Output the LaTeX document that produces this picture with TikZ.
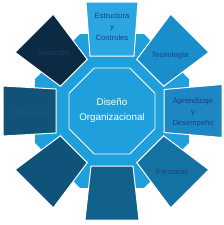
\documentclass[tikz,border=0pt]{standalone}
\usepackage{fontspec}
\setmainfont{Liberation Sans}
\definecolor{ringblue}{HTML}{1F9FDB}
\definecolor{boxA}{HTML}{2BA6E0}
\definecolor{boxB}{HTML}{1A8ECB}
\definecolor{boxC}{HTML}{1C87C2}
\definecolor{boxD}{HTML}{1573A3}
\definecolor{boxE}{HTML}{10618C}
\definecolor{boxF}{HTML}{0F537A}
\definecolor{boxG}{HTML}{105377}
\definecolor{boxH}{HTML}{0C2B42}
\definecolor{navy}{HTML}{1D3F7F}
\definecolor{fainttext}{HTML}{1A5A8C}
\newcommand{\wedgebox}[6]{%
  \begin{scope}[shift={(112,111)},rotate=#1]
    \filldraw[boxshape,fill=#6] (#2,-#4) -- (#3,-#5) -- (#3,#5) -- (#2,#4) -- cycle;
  \end{scope}}
\begin{document}
\begin{tikzpicture}[x=1pt,y=-1pt,
  boxshape/.style={draw=white,line width=1pt},
  boxtext/.style={font=\fontsize{7.6}{10.8}\selectfont,text=navy,align=center,inner sep=0pt},
  centertext/.style={font=\fontsize{9.8}{15}\selectfont,text=white,align=center,inner sep=0pt}]
\useasboundingbox (0,0) rectangle (224,225);
\coordinate (c) at (112,111);
% outer ring octagon
\fill[ringblue,shift={(112,111)}] (22.5:83.3) -- (67.5:83.3) -- (112.5:83.3) -- (157.5:83.3)
  -- (202.5:83.3) -- (247.5:83.3) -- (292.5:83.3) -- (337.5:83.3) -- cycle;
% inner octagon
\filldraw[fill=ringblue,draw=white,line width=0.9pt,shift={(112,111)}] (22.5:46.5) -- (67.5:46.5) -- (112.5:46.5) -- (157.5:46.5)
  -- (202.5:46.5) -- (247.5:46.5) -- (292.5:46.5) -- (337.5:46.5) -- cycle;
% boxes
\wedgebox{90}{55}{109}{22}{26}{boxA}
\wedgebox{45}{54}{110}{19}{27}{boxB}
\wedgebox{0}{52}{110}{21.5}{26.5}{boxC}
\wedgebox{-45}{54}{110}{19}{27}{boxD}
\wedgebox{-90}{55}{109}{21}{27}{boxE}
\wedgebox{-135}{54}{110}{19}{27}{boxF}
\wedgebox{180}{56}{109}{22}{25}{boxG}
\wedgebox{135}{54}{110}{19}{27}{boxH}
% texts
\node[centertext] (centre) at (112,110.5) {Diseño\\Organizacional};
\node[boxtext] (estructura) at (112,27) {Estructura\\y\\Controles};
\node[boxtext] (tecnologia) at (170,55) {Tecnología};
\node[boxtext] (aprendizaje) at (193,112.5) {Aprendizaje\\y\\Desempeño};
\node[boxtext] (personas) at (172,172) {Personas};
\node[boxtext,text=fainttext] (cultura) at (113,193) {Cultura\\y Valores};
\node[boxtext,text=fainttext] (procesos) at (30,113) {Procesos};
\node[boxtext,text=navy!90!boxH] (direccion) at (53,53) {Dirección};
\end{tikzpicture}
\end{document}
